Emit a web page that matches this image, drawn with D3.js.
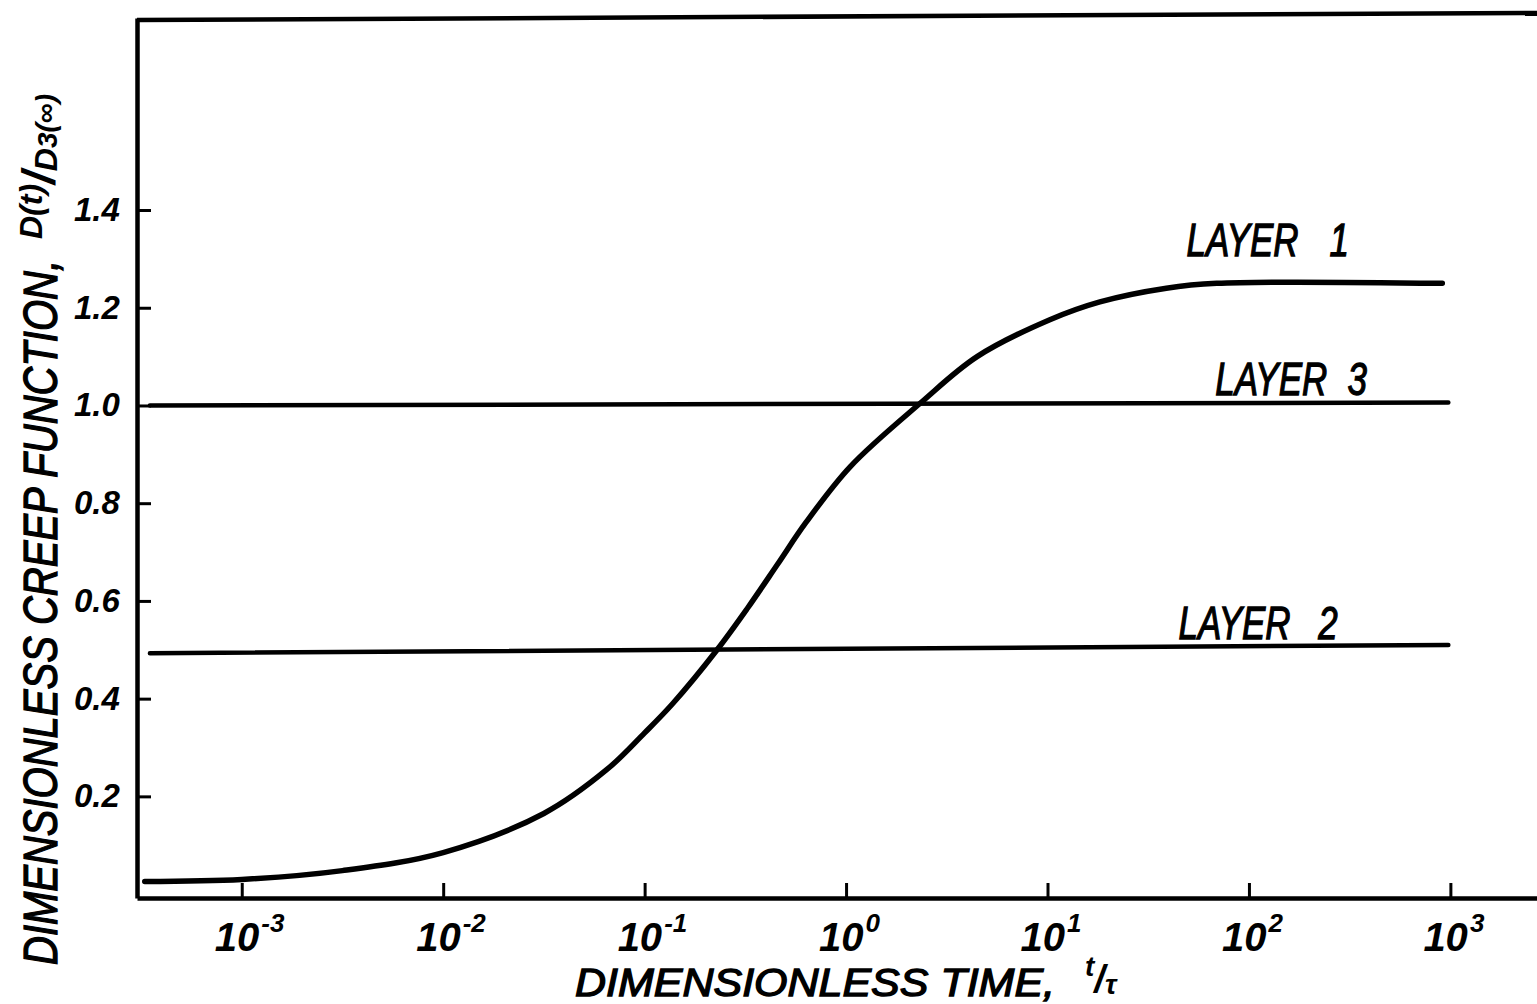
<!DOCTYPE html>
<html>
<head>
  <meta charset="utf-8">
  <title>Dimensionless creep function</title>
  <script src="https://cdn.jsdelivr.net/npm/d3@7"></script>
  <style>
    body { margin: 0; background: #fff; }
    svg text {
      font-family: "Liberation Sans", Arial, sans-serif;
      font-style: italic;
      font-weight: bold;
      fill: #000;
    }
    .title {
      font-weight: normal;
      stroke: #000;
      stroke-width: 1.3px;
    }
  </style>
</head>
<body>
  <div id="chart"></div>
  <script>
    // Layer 1 curve (t/tau, D(t)/D3(inf))
    const timeL1 = [3.3e-4, 1e-3, 3.16e-3, 1e-2, 0.0316, 0.065, 0.1, 0.138, 0.229, 0.324, 0.457, 0.631, 1.05, 2.34, 4.47, 10.2, 18.2, 38.9, 69.2, 912];
    const creepL1 = [0.026, 0.03, 0.048, 0.085, 0.165, 0.255, 0.33, 0.39, 0.50, 0.585, 0.675, 0.76, 0.875, 1.005, 1.10, 1.175, 1.212, 1.24, 1.25, 1.25];

    // Layers 2 and 3 are flat lines
    const timeFlat = [3.5e-4, 977];
    const creepL2 = [0.493, 0.51];
    const creepL3 = [1.0, 1.006];

    // Tick labels
    const xTicks = [1e-3, 1e-2, 1e-1, 1, 10, 100, 1000];
    const xExponents = ["-3", "-2", "-1", "0", "1", "2", "3"];
    const yTicks = [0.2, 0.4, 0.6, 0.8, 1.0, 1.2, 1.4];
    const yLabels = ["0.2", "0.4", "0.6", "0.8", "1.0", "1.2", "1.4"];

    // Curve labels: number and anchor point
    const layerNumbers = ["1", "3", "2"];
    const layerLabelT = [49, 68, 44.7];
    const layerLabelV = [1.25, 1.003, 0.503];

    const w = 1537;
    const h = 1004;

    const x = d3.scaleLog()
      .domain([Math.pow(10, -3.52), Math.pow(10, 3.43)])
      .range([137, 1537]);

    const y = d3.scaleLinear()
      .domain([-0.008, 1.793])
      .range([898, 18]);

    const svg = d3.select("#chart")
      .append("svg")
      .attr("width", w)
      .attr("height", h);

    // Top border of the frame
    svg.append("line")
      .attr("x1", x.range()[0]).attr("y1", y.range()[1] + 2)
      .attr("x2", x.range()[1]).attr("y2", y.range()[1] - 5)
      .attr("stroke", "#000")
      .attr("stroke-width", 4.5);

    // Axes, ticks pointing inward
    const xAxis = svg.append("g")
      .attr("transform", `translate(0,${y.range()[0]})`)
      .call(d3.axisBottom(x).tickValues(xTicks).tickFormat("").tickSizeInner(-15).tickSizeOuter(0));

    const yAxis = svg.append("g")
      .attr("transform", `translate(${x.range()[0]},0)`)
      .call(d3.axisLeft(y).tickValues(yTicks).tickFormat("").tickSizeInner(-14).tickSizeOuter(0));

    [xAxis, yAxis].forEach(function (g) {
      g.select(".domain").attr("stroke-width", 4.5);
      g.selectAll(".tick line").attr("stroke-width", 3);
    });

    // Y tick labels
    svg.selectAll(".ylab")
      .data(yTicks)
      .enter()
      .append("text")
      .attr("x", 74)
      .attr("y", d => y(d) + 11)
      .attr("font-size", 33)
      .text((d, i) => yLabels[i]);

    // X tick labels: 10 with exponent
    const xl = svg.selectAll(".xlab")
      .data(xTicks)
      .enter()
      .append("text")
      .attr("x", d => x(d) - 27)
      .attr("y", 951)
      .attr("font-size", 40);

    xl.append("tspan").text("10");
    xl.append("tspan")
      .attr("dx", 2)
      .attr("dy", -19)
      .attr("font-size", 26)
      .text((d, i) => xExponents[i]);

    // Lines
    const line = d3.line()
      .x(d => x(d[0]))
      .y(d => y(d[1]))
      .curve(d3.curveCatmullRom.alpha(0.5));

    const series = [
      { t: timeL1, v: creepL1, width: 5.5 },
      { t: timeFlat, v: creepL3, width: 4.5 },
      { t: timeFlat, v: creepL2, width: 4.5 }
    ];

    svg.selectAll(".series")
      .data(series)
      .enter()
      .append("path")
      .attr("d", d => line(d.t.map((t, i) => [t, d.v[i]])))
      .attr("fill", "none")
      .attr("stroke", "#000")
      .attr("stroke-width", d => d.width)
      .attr("stroke-linecap", "round");

    // Layer labels, narrow hand lettering
    const lab = svg.selectAll(".layer")
      .data(layerNumbers)
      .enter()
      .append("text")
      .attr("class", "title")
      .attr("transform", (d, i) => `translate(${x(layerLabelT[i])},${y(layerLabelV[i]) - (i === 0 ? 27 : 9)}) scale(0.76,1)`)
      .attr("font-size", 46)
      .attr("stroke-width", 1.8);

    lab.append("tspan").text("LAYER");
    lab.append("tspan")
      .attr("x", (d, i) => [188, 174, 184][i])
      .text(d => d);

    // Y axis title
    svg.append("text")
      .attr("class", "title")
      .attr("transform", "translate(57,965) rotate(-90)")
      .attr("font-size", 48)
      .attr("textLength", 705)
      .attr("lengthAdjust", "spacingAndGlyphs")
      .text("DIMENSIONLESS CREEP FUNCTION,");

    const yu = svg.append("text")
      .attr("transform", "translate(57,965) rotate(-90)")
      .attr("x", 726)
      .attr("font-size", 32)
      .attr("font-weight", "normal");

    yu.append("tspan").attr("dy", -15).text("D(t)");
    yu.append("tspan").attr("dy", 13).attr("font-size", 46).text("/");
    yu.append("tspan").attr("dy", 2).text("D");
    yu.append("tspan").attr("font-size", 28).text("3");
    yu.append("tspan").attr("dy", -2).attr("font-size", 28).text("(\u221e)");

    // X axis title
    svg.append("text")
      .attr("class", "title")
      .attr("x", 575)
      .attr("y", 996)
      .attr("font-size", 38)
      .attr("textLength", 480)
      .attr("lengthAdjust", "spacingAndGlyphs")
      .text("DIMENSIONLESS TIME,");

    const xu = svg.append("text")
      .attr("x", 1085)
      .attr("y", 976)
      .attr("font-size", 28)
      .attr("font-weight", "normal");

    xu.append("tspan").text("t");
    xu.append("tspan").attr("dy", 16).attr("font-size", 38).text("/");
    xu.append("tspan").attr("dy", 2).attr("font-size", 28).text("\u03c4");
  </script>
</body>
</html>
